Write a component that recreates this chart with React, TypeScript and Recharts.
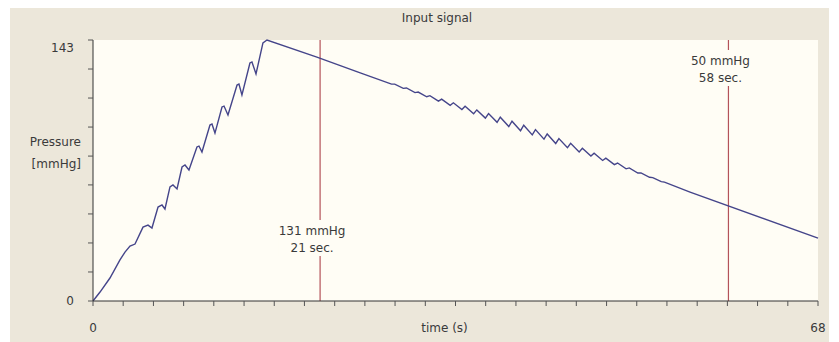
import { LineChart, Line, XAxis, YAxis, CartesianGrid, ReferenceLine } from 'recharts';

// Cuff pressure trace (seconds / mmHg)
const times = [
  0, 0.66, 1.59, 2.53, 3.0, 3.47, 3.94, 4.69, 5.16, 5.53, 6.1, 6.47, 6.75, 7.22, 7.5, 7.88,
  8.35, 8.63, 9.0, 9.75, 9.94, 10.22, 10.97, 11.16, 11.44, 12.1, 12.29, 12.66, 13.51, 13.69,
  13.97, 14.72, 14.91, 15.29, 15.94, 16.32,
  21.0, 25.0,
  28.0, 28.3, 29.1, 29.4, 30.2, 30.5, 31.3, 31.6, 32.4, 32.7, 33.5, 33.8, 34.6, 34.9,
  35.7, 36.0, 36.8, 37.1, 37.9, 38.2, 39.0, 39.3, 40.1, 40.4, 41.2, 41.5, 42.3, 42.6,
  43.4, 43.7, 44.5, 44.8, 45.6, 45.9, 46.7, 47.0, 47.8, 48.1, 48.9, 49.2, 50.0, 50.3,
  51.1, 51.4, 52.2, 52.5, 53.3, 53.6,
  56.0, 68.0,
];
const pressures = [
  0, 4.9, 12.6, 22.5, 26.8, 30.1, 31.2, 40.5, 41.6, 40.0, 51.5, 52.6, 50.4, 62.5, 63.6, 61.4,
  73.4, 74.5, 71.8, 84.4, 84.9, 81.6, 96.4, 97.0, 92.0, 106.3, 106.8, 101.9, 118.3, 118.9,
  112.9, 130.4, 131.0, 124.4, 141.4, 143,
  133.6, 125.1,
  118.8, 118.8, 116.5, 116.7, 114.2, 114.5, 111.9, 112.5, 109.5, 110.6, 107.2, 108.6, 104.9, 106.7,
  102.6, 104.7, 100.2, 102.7, 97.9, 100.7, 95.6, 98.5, 93.3, 96.3, 91.0, 93.9, 88.7, 91.5,
  86.3, 89.0, 84.0, 86.4, 81.7, 83.7, 79.4, 81.0, 77.0, 78.3, 74.7, 75.6, 72.4, 72.9,
  70.1, 70.2, 67.8, 67.6, 65.4, 65.1,
  59.7, 34.4,
];

const xTicks = [
  0, 2.83, 5.67, 8.5, 11.33, 14.17, 17, 19.83, 22.67, 25.5, 28.33, 31.17, 34, 36.83, 39.67,
  42.5, 45.33, 48.17, 51, 53.83, 56.67, 59.5, 62.33, 65.17, 68,
];
const yTicks = [0, 15.9, 31.8, 47.7, 63.6, 79.4, 95.3, 111.2, 127.1, 143];

// vertical markers: where they sit on the time axis and what they say
const markerTimes = [21.3, 59.6];
const markerPressure = ['131 mmHg', '50 mmHg'];
const markerSeconds = ['21 sec.', '58 sec.'];

const data = times.map((t, i) => ({ t, p: pressures[i] }));

const FONT = '"DejaVu Sans", Verdana, sans-serif';
const TEXT = '#3a3a3a';
const PLOT_BG = '#fffdf5';
const PANEL_BG = '#ece7da';
const MARKER = '#b4525a';

const YTick = (props: any) => {
  const { x, y, payload } = props;
  const v = payload.value;
  if (v !== 0 && v !== 143) return <g />;
  return (
    <text x={x} y={v === 143 ? y + 8 : y} dy="0.35em" textAnchor="end" fill={TEXT} fontSize={12} fontFamily={FONT}>
      {v}
    </text>
  );
};

const XTick = (props: any) => {
  const { x, y, payload } = props;
  const v = payload.value;
  if (v !== 0 && v !== 68) return <g />;
  return (
    <text x={x} y={y} dy="0.71em" textAnchor="middle" fill={TEXT} fontSize={12} fontFamily={FONT}>
      {v}
    </text>
  );
};

// label that sits on the marker line and hides the line behind it
const markerLabel = (i: number, top: number) => (props: any) => {
  const { viewBox } = props;
  const cx = viewBox.x - 8;
  const y0 = viewBox.y + top;
  return (
    <g>
      <rect x={cx - 34} y={y0} width={68} height={36} fill={PLOT_BG} />
      <text x={cx} y={y0 + 15} textAnchor="middle" fill={TEXT} fontSize={12} fontFamily={FONT}>
        {markerPressure[i]}
      </text>
      <text x={cx} y={y0 + 32} textAnchor="middle" fill={TEXT} fontSize={12} fontFamily={FONT}>
        {markerSeconds[i]}
      </text>
    </g>
  );
};

const markerTops = [180, 10];

export default function App() {
  return (
    <div style={{ position: 'absolute', left: 0, top: 0, width: 839, height: 342, background: '#fff' }}>
      <div style={{ position: 'absolute', left: 10, top: 8, width: 819, height: 334, background: PANEL_BG }} />
      <div
        style={{
          position: 'absolute',
          left: 337,
          top: 11,
          width: 200,
          height: 14,
          lineHeight: '14px',
          textAlign: 'center',
          fontFamily: FONT,
          fontSize: 12,
          color: TEXT,
        }}
      >
        Input signal
      </div>
      <div style={{ position: 'absolute', left: 0, top: 0 }}>
        <LineChart width={839} height={342} data={data} margin={{ top: 40, right: 21, left: 33, bottom: 11 }}>
          <CartesianGrid horizontal={false} vertical={false} fill={PLOT_BG} />
          <XAxis
            dataKey="t"
            type="number"
            domain={[0, 68]}
            ticks={xTicks}
            interval={0}
            height={30}
            tickSize={5}
            tickMargin={17}
            axisLine={{ stroke: '#333' }}
            tickLine={{ stroke: '#555' }}
            tick={<XTick />}
            label={{
              content: (p: any) => (
                <text
                  x={p.viewBox.x + p.viewBox.width / 2 - 11}
                  y={p.viewBox.y + 31}
                  textAnchor="middle"
                  fill={TEXT}
                  fontSize={12}
                  fontFamily={FONT}
                >
                  time (s)
                </text>
              ),
            }}
          />
          <YAxis
            type="number"
            domain={[0, 143]}
            ticks={yTicks}
            interval={0}
            width={60}
            tickSize={5}
            tickMargin={14}
            axisLine={{ stroke: '#333' }}
            tickLine={{ stroke: '#555' }}
            tick={<YTick />}
            label={{
              content: (p: any) => (
                <g>
                  <text x={81} y={146} textAnchor="end" fill={TEXT} fontSize={12} fontFamily={FONT}>
                    Pressure
                  </text>
                  <text x={81} y={168} textAnchor="end" fill={TEXT} fontSize={12} fontFamily={FONT}>
                    [mmHg]
                  </text>
                </g>
              ),
            }}
          />
          {markerTimes.map((t, i) => (
            <ReferenceLine
              key={t}
              x={t}
              stroke={MARKER}
              strokeWidth={1.2}
              label={{ content: markerLabel(i, markerTops[i]) }}
            />
          ))}
          <Line
            type="linear"
            dataKey="p"
            stroke="#45458a"
            strokeWidth={1.4}
            dot={false}
            isAnimationActive={false}
          />
        </LineChart>
      </div>
    </div>
  );
}
